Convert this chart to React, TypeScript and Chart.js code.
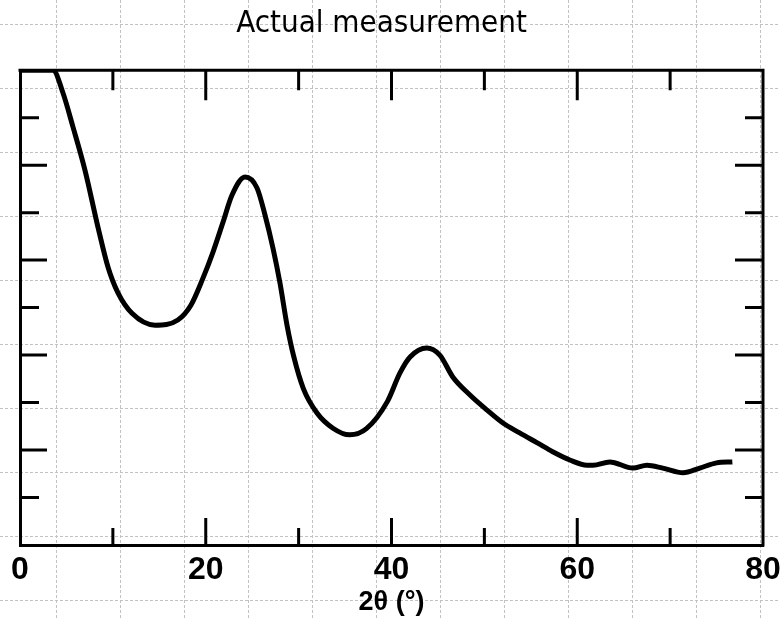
import React, { useEffect, useRef } from 'react';
import { Chart, registerables } from 'chart.js';
Chart.register(...registerables);

const chartTitle = 'Actual measurement';
const xAxisTitle = '2θ (°)';
const twoTheta = [0, 3.55, 4.63, 5.71, 7.0, 8.4, 9.48, 10.55, 12.06, 14.54, 17.0, 18.4, 19.7, 20.78, 21.86, 22.83, 24.23, 25.52, 26.38, 27.24, 27.99, 28.75, 29.5, 30.5, 31.98, 33.7, 35.5, 37.3, 39.55, 40.9, 42.0, 43.8, 45.2, 46.6, 48.45, 50.3, 52.0, 53.8, 55.7, 57.4, 59.2, 61.05, 61.7, 63.5, 66.0, 67.5, 69.2, 71.4, 73.2, 75.0, 76.7];
const intensity = [10, 10, 9.52, 8.8, 7.89, 6.69, 5.85, 5.31, 4.88, 4.63, 4.74, 5.05, 5.62, 6.17, 6.8, 7.37, 7.75, 7.52, 6.95, 6.25, 5.52, 4.63, 3.95, 3.3, 2.78, 2.46, 2.32, 2.45, 3.02, 3.62, 3.96, 4.15, 4.0, 3.54, 3.16, 2.84, 2.57, 2.36, 2.15, 1.96, 1.79, 1.68, 1.68, 1.75, 1.62, 1.68, 1.62, 1.52, 1.62, 1.73, 1.75];
const xLabelValues = [0, 20, 40, 60, 80];
const xMajorTicks = [20, 40, 60];
const xMinorTicks = [10, 30, 50, 70];
const yMajorTicks = [2, 4, 6, 8];
const yMinorTicks = [1, 3, 5, 7, 9];

const bgGridPlugin = {
  id: 'bgGrid',
  beforeDraw(chart: any) {
    const { ctx, width, height } = chart;
    ctx.save();
    ctx.fillStyle = '#ffffff';
    ctx.fillRect(0, 0, width, height);
    ctx.strokeStyle = '#c2c2c2';
    ctx.lineWidth = 1;
    ctx.setLineDash([3, 2]);
    for (let x = 56; x < width; x += 64) {
      ctx.beginPath();
      ctx.moveTo(x + 0.5, 0);
      ctx.lineTo(x + 0.5, height);
      ctx.stroke();
    }
    for (let y = 24; y < height; y += 64) {
      ctx.beginPath();
      ctx.moveTo(0, y + 0.5);
      ctx.lineTo(width, y + 0.5);
      ctx.stroke();
    }
    ctx.restore();
  },
};

const frameTicksPlugin = {
  id: 'frameTicks',
  afterDraw(chart: any) {
    const { ctx, chartArea } = chart;
    const xs = chart.scales.x;
    const ys = chart.scales.y;
    const { left, right, top, bottom } = chartArea;
    ctx.save();
    ctx.strokeStyle = '#000';
    ctx.lineWidth = 3;
    ctx.setLineDash([]);
    ctx.beginPath();
    ctx.moveTo(left - 1.5, top);
    ctx.lineTo(right, top);
    ctx.lineTo(right, bottom + 1.5);
    ctx.stroke();
    const drawX = (vals: number[], lb: number, lt: number) => {
      vals.forEach((v) => {
        const px = xs.getPixelForValue(v);
        ctx.beginPath();
        ctx.moveTo(px, bottom);
        ctx.lineTo(px, bottom - lb);
        ctx.moveTo(px, top);
        ctx.lineTo(px, top + lt);
        ctx.stroke();
      });
    };
    const drawY = (vals: number[], ll: number, lr: number) => {
      vals.forEach((v) => {
        const py = ys.getPixelForValue(v);
        ctx.beginPath();
        ctx.moveTo(left, py);
        ctx.lineTo(left + ll, py);
        ctx.moveTo(right, py);
        ctx.lineTo(right - lr, py);
        ctx.stroke();
      });
    };
    drawX(xMajorTicks, 27, 30);
    drawX(xMinorTicks, 17, 20);
    drawY(yMajorTicks, 27, 28);
    drawY(yMinorTicks, 19, 18);
    ctx.restore();
  },
};

export default function App() {
  const ref = useRef<HTMLCanvasElement | null>(null);
  useEffect(() => {
    document.body.style.margin = '0';
    if (!ref.current) return;
    const chart = new Chart(ref.current, {
      type: 'line',
      data: {
        datasets: [
          {
            data: twoTheta.map((x, i) => ({ x, y: intensity[i] })),
            borderColor: '#000',
            borderWidth: 5,
            pointRadius: 0,
            cubicInterpolationMode: 'monotone',
            fill: false,
          },
        ],
      },
      options: {
        animation: false,
        responsive: false,
        layout: { padding: { left: 0, right: 17, top: 0, bottom: 0 } },
        plugins: {
          legend: { display: false },
          tooltip: { enabled: false },
          title: {
            display: true,
            text: chartTitle,
            color: '#000',
            font: { family: "'DejaVu Sans Condensed', 'Noto Sans', sans-serif", size: 31, weight: 'normal' },
            padding: { top: 5, bottom: 28 },
          },
        },
        scales: {
          x: {
            type: 'linear',
            min: 0,
            max: 80,
            afterBuildTicks: (scale: any) => {
              scale.ticks = xLabelValues.map((v) => ({ value: v }));
            },
            afterFit: (scale: any) => {
              scale.height = 75;
            },
            grid: { display: false },
            border: { display: true, color: '#000', width: 3 },
            ticks: {
              color: '#000',
              padding: -2,
              maxRotation: 0,
              font: { family: "'Liberation Sans', Arial, sans-serif", size: 32, weight: 'bold' },
              callback: (v: any) => String(v),
            },
            title: {
              display: true,
              text: xAxisTitle,
              color: '#000',
              font: { family: "'Liberation Sans', Arial, sans-serif", size: 27, weight: 'bold' },
              padding: { top: 0, bottom: 1 },
            },
          },
          y: {
            type: 'linear',
            min: 0,
            max: 10,
            afterFit: (scale: any) => {
              scale.width = 20;
            },
            grid: { display: false },
            border: { display: true, color: '#000', width: 3 },
            ticks: { display: false },
          },
        },
      },
      plugins: [bgGridPlugin, frameTicksPlugin],
    } as any);
    return () => chart.destroy();
  }, []);
  return (
    <div style={{ width: 780, height: 620 }}>
      <canvas ref={ref} width={780} height={620} />
    </div>
  );
}
